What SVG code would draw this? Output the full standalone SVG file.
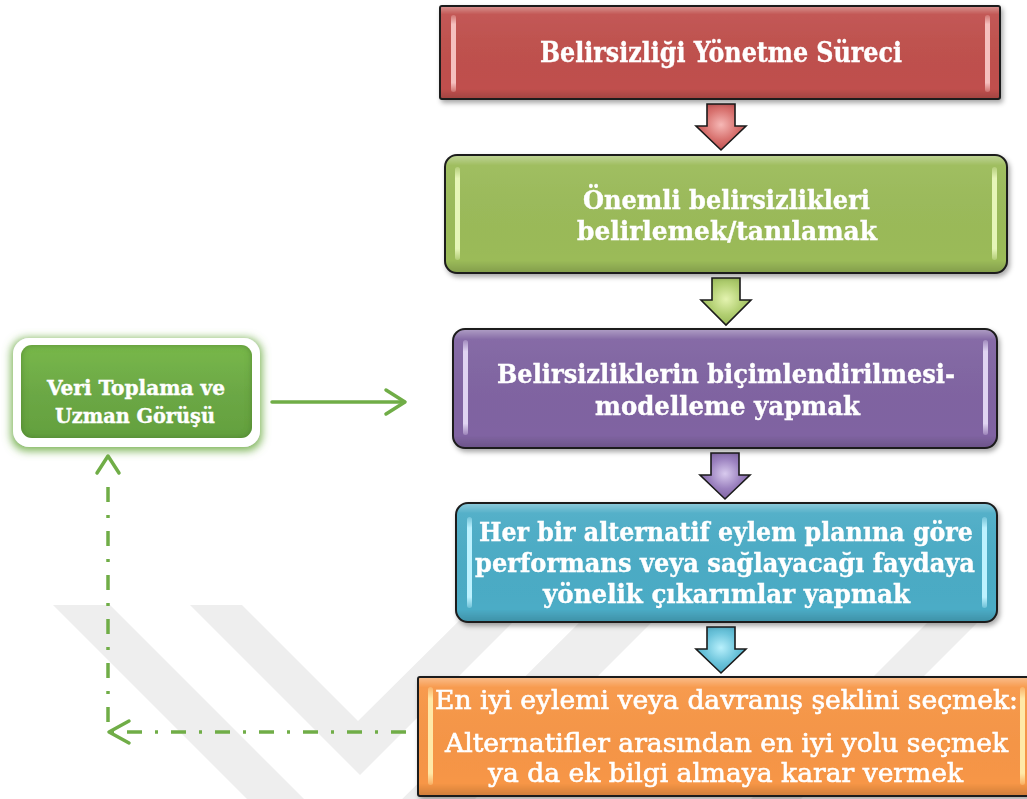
<svg xmlns="http://www.w3.org/2000/svg" width="1027" height="799" viewBox="0 0 1027 799">
  <defs>
    <style>
      .t{font-family:"DejaVu Serif Condensed","DejaVu Serif","Liberation Serif",serif;font-stretch:condensed;font-weight:bold;fill:#fff;stroke:#fff;stroke-width:0.35;text-anchor:middle}
      .tn{font-family:"DejaVu Serif Condensed","DejaVu Serif","Liberation Serif",serif;font-stretch:condensed;font-weight:normal;fill:#fff;stroke:#fff;stroke-width:0.6;text-anchor:middle}
      .box{stroke:#1b1b1b;stroke-width:2}
      .wm{fill:#eeeeee}
      .conn{fill:none;stroke:#70AD47;stroke-width:3.5;stroke-linecap:round;stroke-linejoin:round}
      .dash{stroke-dasharray:15 13 3 13;stroke-linecap:butt}
      .arrow{stroke:#1b1b1b;stroke-width:1.6;stroke-linejoin:miter}
      .gloss{fill:url(#gloss);stroke:none}
    </style>
    <filter id="shadow" x="-5%" y="-10%" width="115%" height="135%">
      <feDropShadow dx="2" dy="3" stdDeviation="2.5" flood-color="#000" flood-opacity="0.35"/>
    </filter>
    <filter id="glow" x="-15%" y="-25%" width="130%" height="160%">
      <feMorphology in="SourceAlpha" operator="dilate" radius="2" result="grown"/>
      <feGaussianBlur in="grown" stdDeviation="4" result="blur"/>
      <feFlood flood-color="#70AD47" flood-opacity="0.9"/>
      <feComposite in2="blur" operator="in" result="halo"/>
      <feOffset in="halo" dy="2" result="halo2"/>
      <feMerge>
        <feMergeNode in="halo2"/>
        <feMergeNode in="SourceGraphic"/>
      </feMerge>
    </filter>
    <filter id="inset" x="-5%" y="-10%" width="110%" height="120%">
      <feGaussianBlur in="SourceAlpha" stdDeviation="3" result="b"/>
      <feComposite in="SourceAlpha" in2="b" operator="out" result="edge"/>
      <feFlood flood-color="#3E6E22" flood-opacity="0.7"/>
      <feComposite in2="edge" operator="in" result="shade"/>
      <feMerge>
        <feMergeNode in="SourceGraphic"/>
        <feMergeNode in="shade"/>
      </feMerge>
    </filter>
    <linearGradient id="gloss" x1="0" y1="0" x2="0" y2="1">
      <stop offset="0" stop-color="#fff" stop-opacity="0.35"/>
      <stop offset="0.08" stop-color="#fff" stop-opacity="0.05"/>
      <stop offset="0.9" stop-color="#000" stop-opacity="0"/>
      <stop offset="1" stop-color="#000" stop-opacity="0.15"/>
    </linearGradient>
    <linearGradient id="barFade" x1="0" y1="0" x2="0" y2="1">
      <stop offset="0" stop-color="#fff" stop-opacity="0.3"/>
      <stop offset="0.12" stop-color="#fff" stop-opacity="1"/>
      <stop offset="0.88" stop-color="#fff" stop-opacity="1"/>
      <stop offset="1" stop-color="#fff" stop-opacity="0.3"/>
    </linearGradient>
    <mask id="barMask" maskContentUnits="objectBoundingBox">
      <rect width="1" height="1" fill="url(#barFade)"/>
    </mask>
    <radialGradient id="arRed" cx="50%" cy="45%" r="60%">
      <stop offset="0" stop-color="#F6B8B6"/>
      <stop offset="0.55" stop-color="#D8726F"/>
      <stop offset="1" stop-color="#B9484A"/>
    </radialGradient>
    <radialGradient id="arGreen" cx="50%" cy="45%" r="60%">
      <stop offset="0" stop-color="#E4F3B0"/>
      <stop offset="0.55" stop-color="#B2CF72"/>
      <stop offset="1" stop-color="#92B351"/>
    </radialGradient>
    <radialGradient id="arPurple" cx="50%" cy="45%" r="60%">
      <stop offset="0" stop-color="#D8CAEE"/>
      <stop offset="0.55" stop-color="#9A80BE"/>
      <stop offset="1" stop-color="#7A5E9C"/>
    </radialGradient>
    <radialGradient id="arBlue" cx="50%" cy="45%" r="60%">
      <stop offset="0" stop-color="#B8F0FC"/>
      <stop offset="0.55" stop-color="#6CC4DB"/>
      <stop offset="1" stop-color="#46A6C0"/>
    </radialGradient>
    <linearGradient id="nodeFill" x1="0" y1="0" x2="0" y2="1">
      <stop offset="0" stop-color="#78B84B"/>
      <stop offset="0.5" stop-color="#6CA845"/>
      <stop offset="1" stop-color="#63A03F"/>
    </linearGradient>
  </defs>

  <!-- faint background watermark stripes -->
  <g id="watermark">
    <polygon class="wm" points="53,605 110,605 353,848 602,600 674,600 361,913"/>
    <polygon class="wm" points="190,605 242,605 358,721 480,600 535,600 360,775"/>
    <polygon class="wm" points="930,620 980,620 801,799 751,799"/>
  </g>

  <!-- connectors -->
  <g id="connectors">
    <polygon class="arrow" fill="url(#arRed)" points="707,104 735,104 735,126 746,126 721,150 696,126 707,126"/>
    <polygon class="arrow" fill="url(#arGreen)" points="712,278 740,278 740,300 751,300 726,325 701,300 712,300"/>
    <polygon class="arrow" fill="url(#arPurple)" points="711,453 739,453 739,475 750,475 725,499 700,475 711,475"/>
    <polygon class="arrow" fill="url(#arBlue)" points="707,627 735,627 735,649 746,649 721,673 696,649 707,649"/>
    <!-- input from data collection -->
    <line class="conn" x1="272" y1="402" x2="404" y2="402"/>
    <polyline class="conn" points="386,390 405,402 386,414"/>
    <!-- feedback loop -->
    <polyline class="conn dash" points="406,732 108,732 108,478"/>
    <polyline class="conn" points="129,721 109,732 129,743"/>
    <polyline class="conn" points="97,473 108,456 119,473"/>
  </g>

  <!-- process steps -->
  <g id="step1" filter="url(#shadow)">
    <rect class="box" x="440" y="6" width="560" height="93" rx="2" fill="#C0504D"/>
    <rect class="gloss" x="441" y="7" width="558" height="91"/>
    <rect x="451" y="15" width="5" height="77" rx="2.5" fill="#F5C0BE" mask="url(#barMask)"/>
    <rect x="985" y="15" width="5" height="77" rx="2.5" fill="#F5C0BE" mask="url(#barMask)"/>
    <text class="t" x="721" y="62" font-size="27.5" textLength="362" lengthAdjust="spacingAndGlyphs">Belirsizliği Yönetme Süreci</text>
  </g>

  <g id="step2" filter="url(#shadow)">
    <rect class="box" x="445" y="155" width="562" height="118" rx="12" fill="#9BBB59"/>
    <rect class="gloss" x="446" y="156" width="560" height="116" rx="11"/>
    <rect x="455" y="167" width="5" height="93" rx="2.5" fill="#E6F5B8" mask="url(#barMask)"/>
    <rect x="992" y="167" width="5" height="93" rx="2.5" fill="#E6F5B8" mask="url(#barMask)"/>
    <text class="t" x="726.5" y="209" font-size="25.5" textLength="287" lengthAdjust="spacingAndGlyphs">Önemli belirsizlikleri</text>
    <text class="t" x="727" y="240" font-size="25.5" textLength="300" lengthAdjust="spacingAndGlyphs">belirlemek/tanılamak</text>
  </g>

  <g id="step3" filter="url(#shadow)">
    <rect class="box" x="453" y="329" width="544" height="119" rx="12" fill="#8064A2"/>
    <rect class="gloss" x="454" y="330" width="542" height="117" rx="11"/>
    <rect x="463" y="340" width="5" height="95" rx="2.5" fill="#E0D4F2" mask="url(#barMask)"/>
    <rect x="983" y="340" width="5" height="95" rx="2.5" fill="#E0D4F2" mask="url(#barMask)"/>
    <text class="t" x="726" y="383" font-size="25.5" textLength="458" lengthAdjust="spacingAndGlyphs">Belirsizliklerin biçimlendirilmesi-</text>
    <text class="t" x="727.5" y="415" font-size="25.5" textLength="265" lengthAdjust="spacingAndGlyphs">modelleme yapmak</text>
  </g>

  <g id="step4" filter="url(#shadow)">
    <rect class="box" x="456" y="503" width="541" height="119" rx="12" fill="#4BACC6"/>
    <rect class="gloss" x="457" y="504" width="539" height="117" rx="11"/>
    <rect x="467" y="517" width="5" height="91" rx="2.5" fill="#BDF2FF" mask="url(#barMask)"/>
    <rect x="982" y="517" width="5" height="91" rx="2.5" fill="#BDF2FF" mask="url(#barMask)"/>
    <text class="t" x="726" y="541" font-size="25.5" textLength="494" lengthAdjust="spacingAndGlyphs">Her bir alternatif eylem planına göre</text>
    <text class="t" x="725" y="572" font-size="25.5" textLength="500" lengthAdjust="spacingAndGlyphs">performans veya sağlayacağı faydaya</text>
    <text class="t" x="726.5" y="603" font-size="25.5" textLength="367" lengthAdjust="spacingAndGlyphs">yönelik çıkarımlar yapmak</text>
  </g>

  <g id="step5" filter="url(#shadow)">
    <rect class="box" x="418" y="677" width="616" height="119" rx="2" fill="#F79646"/>
    <rect class="gloss" x="419" y="678" width="614" height="117"/>
    <rect x="428" y="687" width="5" height="98" rx="2.5" fill="#FFE9A8" mask="url(#barMask)"/>
    <rect x="1020" y="687" width="5" height="98" rx="2.5" fill="#FFE9A8" mask="url(#barMask)"/>
    <text class="tn" x="726.5" y="709" font-size="26" textLength="583" lengthAdjust="spacingAndGlyphs">En iyi eylemi veya davranış şeklini seçmek:</text>
    <text class="tn" x="726.5" y="752" font-size="26" textLength="563" lengthAdjust="spacingAndGlyphs">Alternatifler arasından en iyi yolu seçmek</text>
    <text class="tn" x="725.5" y="782" font-size="26" textLength="475" lengthAdjust="spacingAndGlyphs">ya da ek bilgi almaya karar vermek</text>
  </g>

  <!-- side input node -->
  <g id="dataNode">
    <rect x="13" y="338" width="247" height="109" rx="16" fill="#fff" filter="url(#glow)"/>
    <rect x="21" y="345" width="231" height="93" rx="11" fill="url(#nodeFill)" filter="url(#inset)"/>
    <text class="t" x="136" y="395" font-size="20.5" textLength="178" lengthAdjust="spacingAndGlyphs">Veri Toplama ve</text>
    <text class="t" x="135" y="423" font-size="20.5" textLength="160" lengthAdjust="spacingAndGlyphs">Uzman Görüşü</text>
  </g>
</svg>
